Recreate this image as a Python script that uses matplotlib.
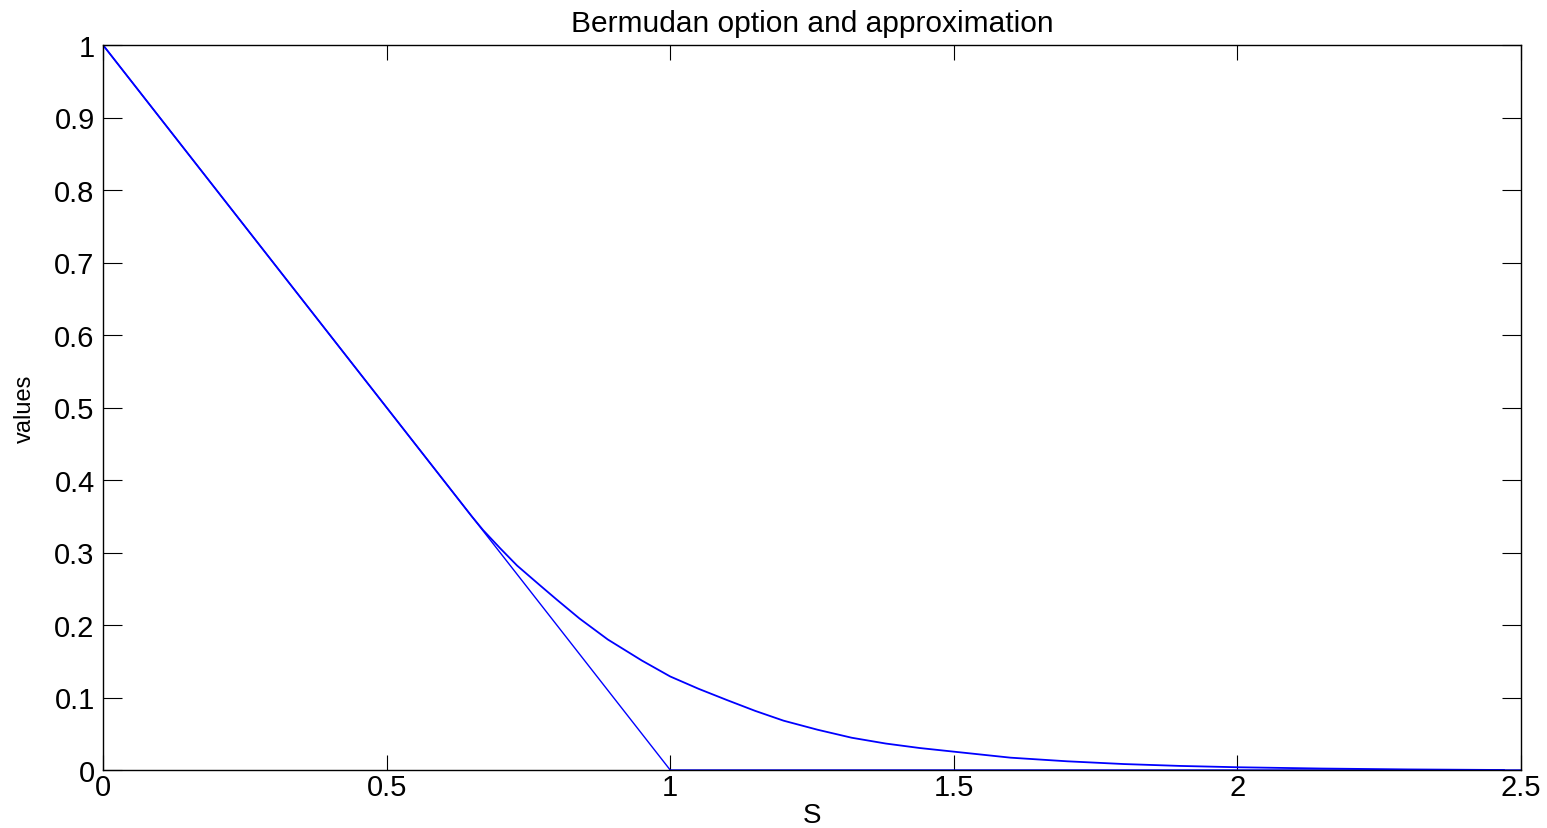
import numpy as np
import matplotlib.pyplot as plt

plt.rcParams['font.family'] = ['Liberation Sans', 'DejaVu Sans']

# payoff max(1 - S, 0) on the grid
payoff_s = [0.0, 1.0, 2.5]
payoff_v = [1.0, 0.0, 0.0]

# bermudan option value, read along S
option_s = [0.0, 0.1, 0.2, 0.3, 0.4, 0.5, 0.6, 0.65, 0.67, 0.7, 0.73, 0.77,
            0.8, 0.84, 0.89, 0.95, 1.0, 1.05, 1.1, 1.15, 1.2, 1.26, 1.32, 1.38,
            1.44, 1.5, 1.6, 1.7, 1.8, 1.9, 2.0, 2.15, 2.3, 2.47]
option_v = [1.0, 0.9, 0.8, 0.7, 0.6, 0.5, 0.4, 0.35, 0.331, 0.306, 0.282, 0.255,
            0.235, 0.209, 0.180, 0.151, 0.129, 0.112, 0.0965, 0.0815, 0.068, 0.0555, 0.0445, 0.0365,
            0.0303, 0.0253, 0.017, 0.012, 0.0082, 0.0056, 0.0038, 0.002, 0.0008, 0.0]

fig = plt.figure(figsize=(15.47, 8.29), dpi=100)
ax = fig.add_axes([103 / 1547, 58 / 829, 1418 / 1547, 725 / 829])

ax.plot(option_s, option_v, color='blue', linewidth=1.3)
ax.plot(payoff_s, payoff_v, color='blue', linewidth=1.0)

ax.set_xlim(0, 2.5)
ax.set_ylim(0, 1)
ax.set_xticks([0, 0.5, 1, 1.5, 2, 2.5])
ax.set_xticklabels(['0', '0.5', '1', '1.5', '2', '2.5'])
ax.set_yticks(np.round(np.arange(0, 1.01, 0.1), 1))
ax.set_yticklabels(['0', '0.1', '0.2', '0.3', '0.4', '0.5', '0.6', '0.7', '0.8', '0.9', '1'])
ax.tick_params(direction='in', top=True, right=True, width=0.8, labelsize=21)
ax.tick_params(axis='x', length=11, pad=2)
ax.tick_params(axis='y', length=14, pad=6)
for sp in ax.spines.values():
    sp.set_linewidth(1.0)

ax.set_title('Bermudan option and approximation', fontsize=21.5, pad=10)
ax.set_xlabel('S', fontsize=20, labelpad=1)
ax.set_ylabel('values', fontsize=17, labelpad=13)

fig.savefig('out.png', dpi=100)
